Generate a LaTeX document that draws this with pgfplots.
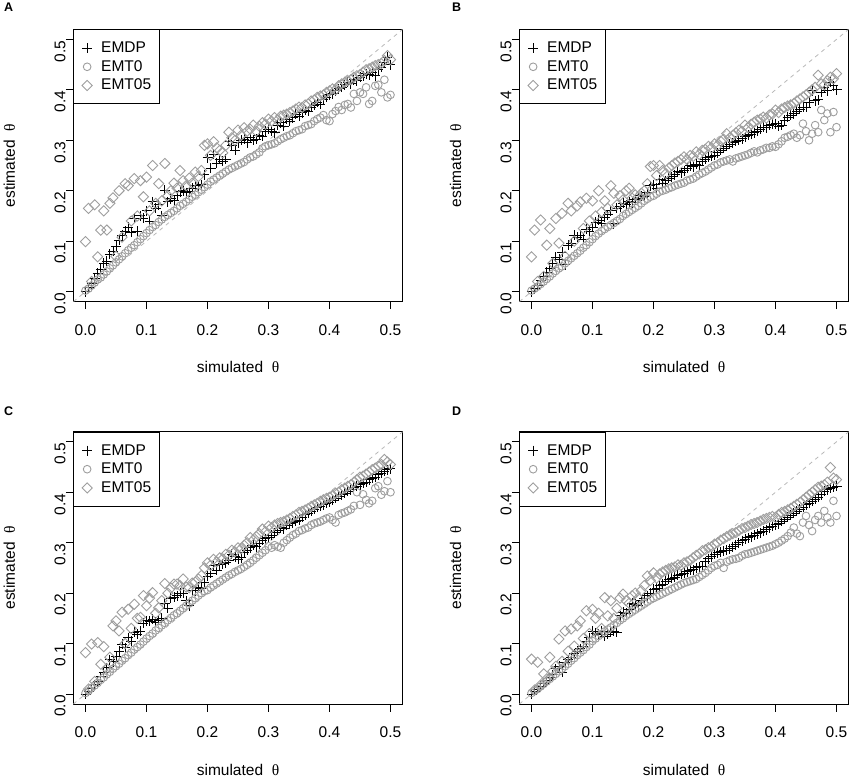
\documentclass[border=0pt]{standalone}
\usepackage{fontspec}
\setmainfont{Liberation Sans}
\newfontfamily\thetafont{Liberation Serif}
\usepackage{pgfplots}
\usepackage{pgfplotstable}
\pgfplotsset{compat=1.18}
\definecolor{mygray}{gray}{0.62}
\definecolor{dashgray}{gray}{0.72}
\newcommand{\fsz}{\fontsize{15.5}{18}\selectfont}

\pgfplotstableread{
x dp t0 t05
0.000 0.000 0.002 0.099
0.005 0.008 0.006 0.165
0.010 0.016 0.012 0.020
0.015 0.026 0.018 0.172
0.020 0.036 0.024 0.069
0.025 0.044 0.028 0.122
0.030 0.056 0.034 0.160
0.035 0.060 0.040 0.122
0.040 0.074 0.046 0.175
0.045 0.080 0.052 0.186
0.050 0.090 0.058 0.070
0.055 0.102 0.064 0.200
0.060 0.112 0.070 0.108
0.065 0.120 0.076 0.214
0.070 0.128 0.082 0.210
0.075 0.118 0.087 0.140
0.080 0.145 0.092 0.224
0.085 0.120 0.098 0.150
0.090 0.150 0.104 0.220
0.095 0.145 0.110 0.188
0.100 0.160 0.116 0.227
0.105 0.140 0.122 0.160
0.110 0.178 0.128 0.250
0.115 0.165 0.132 0.175
0.120 0.172 0.138 0.214
0.125 0.150 0.143 0.180
0.130 0.201 0.148 0.254
0.135 0.178 0.152 0.190
0.140 0.184 0.156 0.200
0.145 0.180 0.160 0.215
0.150 0.190 0.165 0.205
0.155 0.198 0.170 0.240
0.160 0.200 0.174 0.220
0.165 0.196 0.178 0.210
0.170 0.198 0.183 0.225
0.175 0.205 0.188 0.215
0.180 0.210 0.192 0.237
0.185 0.210 0.197 0.228
0.190 0.212 0.202 0.240
0.195 0.232 0.207 0.290
0.200 0.265 0.212 0.293
0.205 0.245 0.218 0.270
0.210 0.272 0.222 0.297
0.215 0.255 0.226 0.285
0.220 0.262 0.230 0.280
0.225 0.258 0.234 0.275
0.230 0.262 0.238 0.290
0.235 0.298 0.242 0.316
0.240 0.290 0.245 0.305
0.245 0.280 0.248 0.300
0.250 0.295 0.251 0.320
0.255 0.300 0.254 0.310
0.260 0.302 0.257 0.325
0.265 0.295 0.262 0.318
0.270 0.305 0.266 0.322
0.275 0.300 0.268 0.330
0.280 0.302 0.272 0.318
0.285 0.310 0.276 0.328
0.290 0.308 0.284 0.335
0.295 0.318 0.288 0.332
0.300 0.322 0.290 0.342
0.305 0.318 0.292 0.338
0.310 0.315 0.294 0.345
0.315 0.330 0.298 0.340
0.320 0.335 0.302 0.348
0.325 0.328 0.305 0.350
0.330 0.342 0.308 0.352
0.335 0.338 0.310 0.355
0.340 0.345 0.314 0.358
0.345 0.352 0.318 0.362
0.350 0.348 0.320 0.366
0.355 0.355 0.322 0.365
0.360 0.360 0.328 0.370
0.365 0.358 0.330 0.372
0.370 0.365 0.332 0.378
0.375 0.370 0.338 0.380
0.380 0.375 0.342 0.385
0.385 0.372 0.345 0.388
0.390 0.380 0.350 0.390
0.395 0.385 0.340 0.395
0.400 0.390 0.338 0.398
0.405 0.392 0.352 0.402
0.410 0.398 0.358 0.400
0.415 0.402 0.366 0.408
0.420 0.405 0.360 0.412
0.425 0.410 0.370 0.415
0.430 0.415 0.372 0.418
0.435 0.412 0.365 0.420
0.440 0.420 0.392 0.425
0.445 0.418 0.378 0.428
0.450 0.425 0.395 0.430
0.455 0.428 0.392 0.435
0.460 0.432 0.405 0.440
0.465 0.430 0.372 0.442
0.470 0.435 0.378 0.445
0.475 0.428 0.408 0.448
0.480 0.440 0.410 0.450
0.485 0.445 0.395 0.452
0.490 0.455 0.420 0.458
0.495 0.465 0.385 0.468
0.500 0.450 0.390 0.460
}\tabA

\pgfplotstableread{
x dp t0 t05
0.000 0.000 0.002 0.069
0.005 0.006 0.006 0.122
0.010 0.012 0.010 0.020
0.015 0.022 0.015 0.142
0.020 0.030 0.020 0.030
0.025 0.038 0.025 0.092
0.030 0.046 0.030 0.125
0.035 0.056 0.036 0.056
0.040 0.068 0.041 0.145
0.045 0.064 0.046 0.096
0.050 0.078 0.050 0.155
0.055 0.053 0.056 0.070
0.060 0.092 0.061 0.175
0.065 0.096 0.066 0.160
0.070 0.112 0.071 0.100
0.075 0.108 0.076 0.170
0.080 0.112 0.081 0.178
0.085 0.104 0.087 0.125
0.090 0.124 0.092 0.185
0.095 0.120 0.098 0.140
0.100 0.128 0.104 0.180
0.105 0.138 0.110 0.150
0.110 0.142 0.115 0.200
0.115 0.136 0.120 0.158
0.120 0.148 0.124 0.180
0.125 0.152 0.128 0.165
0.130 0.160 0.132 0.210
0.135 0.135 0.136 0.195
0.140 0.165 0.140 0.172
0.145 0.168 0.144 0.190
0.150 0.175 0.150 0.182
0.155 0.172 0.154 0.200
0.160 0.178 0.158 0.205
0.165 0.176 0.162 0.185
0.170 0.182 0.166 0.192
0.175 0.185 0.170 0.188
0.180 0.190 0.175 0.195
0.185 0.188 0.180 0.200
0.190 0.196 0.184 0.214
0.195 0.210 0.188 0.248
0.200 0.212 0.190 0.250
0.205 0.205 0.194 0.230
0.210 0.222 0.198 0.250
0.215 0.215 0.200 0.240
0.220 0.220 0.202 0.234
0.225 0.225 0.205 0.245
0.230 0.228 0.207 0.250
0.235 0.232 0.210 0.255
0.240 0.238 0.212 0.258
0.245 0.236 0.214 0.262
0.250 0.240 0.216 0.267
0.255 0.245 0.220 0.262
0.260 0.250 0.222 0.270
0.265 0.248 0.224 0.268
0.270 0.252 0.228 0.277
0.275 0.250 0.232 0.272
0.280 0.258 0.235 0.280
0.285 0.262 0.238 0.282
0.290 0.266 0.242 0.288
0.295 0.268 0.246 0.285
0.300 0.270 0.250 0.293
0.305 0.275 0.252 0.290
0.310 0.280 0.256 0.298
0.315 0.284 0.258 0.302
0.320 0.288 0.260 0.313
0.325 0.292 0.262 0.305
0.330 0.295 0.258 0.310
0.335 0.298 0.264 0.315
0.340 0.300 0.266 0.320
0.345 0.303 0.268 0.318
0.350 0.307 0.270 0.330
0.355 0.310 0.272 0.325
0.360 0.312 0.275 0.332
0.365 0.315 0.278 0.336
0.370 0.318 0.276 0.340
0.375 0.322 0.280 0.342
0.380 0.326 0.282 0.346
0.385 0.325 0.285 0.344
0.390 0.330 0.285 0.350
0.395 0.332 0.288 0.352
0.400 0.333 0.287 0.360
0.405 0.328 0.292 0.355
0.410 0.330 0.298 0.362
0.415 0.340 0.305 0.365
0.420 0.346 0.307 0.368
0.425 0.350 0.310 0.370
0.430 0.353 0.313 0.373
0.435 0.358 0.305 0.378
0.440 0.362 0.310 0.382
0.445 0.365 0.333 0.386
0.450 0.366 0.318 0.390
0.455 0.375 0.300 0.395
0.460 0.398 0.313 0.400
0.465 0.378 0.330 0.405
0.470 0.380 0.316 0.429
0.475 0.395 0.360 0.412
0.480 0.404 0.340 0.410
0.485 0.398 0.353 0.418
0.490 0.415 0.316 0.425
0.495 0.408 0.356 0.422
0.500 0.400 0.326 0.432
}\tabB

\pgfplotstableread{
x dp t0 t05
0.000 0.000 0.002 0.082
0.005 0.006 0.006 0.010
0.010 0.012 0.012 0.099
0.015 0.018 0.017 0.025
0.020 0.025 0.022 0.102
0.025 0.034 0.028 0.059
0.030 0.042 0.033 0.094
0.035 0.052 0.039 0.050
0.040 0.068 0.044 0.073
0.045 0.064 0.050 0.135
0.050 0.075 0.055 0.145
0.055 0.085 0.060 0.125
0.060 0.099 0.066 0.162
0.065 0.092 0.071 0.100
0.070 0.112 0.077 0.168
0.075 0.105 0.082 0.130
0.080 0.122 0.088 0.178
0.085 0.118 0.093 0.150
0.090 0.125 0.098 0.152
0.095 0.140 0.104 0.195
0.100 0.145 0.110 0.175
0.105 0.144 0.115 0.190
0.110 0.148 0.120 0.201
0.115 0.142 0.126 0.160
0.120 0.146 0.131 0.171
0.125 0.150 0.136 0.185
0.130 0.180 0.141 0.219
0.135 0.170 0.146 0.200
0.140 0.190 0.151 0.210
0.145 0.192 0.156 0.218
0.150 0.195 0.160 0.218
0.155 0.200 0.165 0.215
0.160 0.200 0.170 0.228
0.165 0.185 0.175 0.212
0.170 0.175 0.180 0.211
0.175 0.205 0.185 0.220
0.180 0.205 0.190 0.222
0.185 0.212 0.195 0.228
0.190 0.210 0.200 0.235
0.195 0.222 0.204 0.250
0.200 0.234 0.206 0.260
0.205 0.240 0.211 0.255
0.210 0.254 0.215 0.267
0.215 0.245 0.219 0.262
0.220 0.256 0.223 0.270
0.225 0.258 0.227 0.268
0.230 0.260 0.231 0.277
0.235 0.265 0.235 0.275
0.240 0.277 0.238 0.285
0.245 0.272 0.242 0.282
0.250 0.267 0.245 0.290
0.255 0.270 0.248 0.288
0.260 0.280 0.252 0.295
0.265 0.285 0.256 0.300
0.270 0.290 0.260 0.310
0.275 0.295 0.265 0.305
0.280 0.292 0.270 0.312
0.285 0.298 0.275 0.318
0.290 0.305 0.280 0.327
0.295 0.308 0.285 0.322
0.300 0.310 0.293 0.333
0.305 0.315 0.290 0.330
0.310 0.320 0.295 0.335
0.315 0.325 0.292 0.338
0.320 0.330 0.290 0.340
0.325 0.328 0.300 0.342
0.330 0.335 0.305 0.345
0.335 0.338 0.310 0.348
0.340 0.340 0.315 0.352
0.345 0.343 0.318 0.355
0.350 0.345 0.323 0.360
0.355 0.350 0.325 0.362
0.360 0.355 0.328 0.365
0.365 0.358 0.330 0.368
0.370 0.362 0.335 0.372
0.375 0.366 0.338 0.375
0.380 0.370 0.340 0.378
0.385 0.372 0.342 0.382
0.390 0.375 0.345 0.385
0.395 0.378 0.348 0.388
0.400 0.380 0.350 0.390
0.405 0.384 0.345 0.394
0.410 0.388 0.340 0.398
0.415 0.392 0.355 0.400
0.420 0.395 0.358 0.405
0.425 0.398 0.360 0.408
0.430 0.402 0.363 0.412
0.435 0.405 0.366 0.415
0.440 0.410 0.373 0.420
0.445 0.412 0.400 0.425
0.450 0.415 0.375 0.430
0.455 0.418 0.396 0.432
0.460 0.420 0.385 0.436
0.465 0.425 0.378 0.440
0.470 0.428 0.383 0.445
0.475 0.430 0.408 0.448
0.480 0.435 0.412 0.452
0.485 0.438 0.395 0.455
0.490 0.442 0.402 0.465
0.495 0.445 0.422 0.460
0.500 0.447 0.400 0.455
}\tabC

\pgfplotstableread{
x dp t0 t05
0.000 0.000 0.002 0.069
0.005 0.005 0.006 0.008
0.010 0.010 0.010 0.063
0.015 0.015 0.015 0.018
0.020 0.020 0.020 0.040
0.025 0.026 0.025 0.030
0.030 0.032 0.030 0.073
0.035 0.038 0.035 0.045
0.040 0.050 0.040 0.055
0.045 0.055 0.045 0.109
0.050 0.043 0.050 0.065
0.055 0.062 0.055 0.125
0.060 0.068 0.060 0.085
0.065 0.072 0.066 0.129
0.070 0.080 0.071 0.095
0.075 0.085 0.077 0.135
0.080 0.090 0.082 0.145
0.085 0.095 0.087 0.110
0.090 0.105 0.093 0.165
0.095 0.112 0.098 0.120
0.100 0.125 0.105 0.168
0.105 0.120 0.110 0.150
0.110 0.118 0.115 0.160
0.115 0.125 0.119 0.130
0.120 0.115 0.124 0.191
0.125 0.118 0.128 0.155
0.130 0.122 0.132 0.185
0.135 0.125 0.137 0.150
0.140 0.122 0.141 0.170
0.145 0.155 0.146 0.190
0.150 0.162 0.150 0.198
0.155 0.160 0.155 0.185
0.160 0.168 0.159 0.180
0.165 0.180 0.163 0.195
0.170 0.178 0.167 0.200
0.175 0.175 0.171 0.190
0.180 0.185 0.175 0.205
0.185 0.190 0.179 0.215
0.190 0.195 0.183 0.234
0.195 0.200 0.187 0.225
0.200 0.208 0.190 0.240
0.205 0.210 0.193 0.230
0.210 0.215 0.196 0.238
0.215 0.218 0.199 0.242
0.220 0.224 0.202 0.245
0.225 0.228 0.205 0.248
0.230 0.230 0.208 0.250
0.235 0.232 0.211 0.252
0.240 0.236 0.214 0.256
0.245 0.238 0.217 0.255
0.250 0.240 0.220 0.260
0.255 0.242 0.222 0.262
0.260 0.245 0.224 0.265
0.265 0.246 0.226 0.270
0.270 0.250 0.228 0.275
0.275 0.252 0.232 0.278
0.280 0.252 0.236 0.284
0.285 0.262 0.240 0.286
0.290 0.268 0.245 0.290
0.295 0.272 0.250 0.292
0.300 0.277 0.254 0.297
0.305 0.280 0.256 0.300
0.310 0.282 0.260 0.305
0.315 0.284 0.250 0.308
0.320 0.285 0.262 0.312
0.325 0.288 0.265 0.315
0.330 0.292 0.267 0.318
0.335 0.296 0.268 0.320
0.340 0.300 0.270 0.324
0.345 0.304 0.274 0.328
0.350 0.307 0.277 0.330
0.355 0.310 0.278 0.333
0.360 0.312 0.280 0.336
0.365 0.315 0.282 0.338
0.370 0.318 0.284 0.340
0.375 0.320 0.286 0.343
0.380 0.323 0.288 0.346
0.385 0.326 0.290 0.348
0.390 0.330 0.292 0.350
0.395 0.333 0.294 0.352
0.400 0.336 0.297 0.350
0.405 0.338 0.300 0.356
0.410 0.342 0.304 0.360
0.415 0.346 0.308 0.362
0.420 0.350 0.313 0.365
0.425 0.354 0.320 0.368
0.430 0.358 0.330 0.372
0.435 0.362 0.318 0.376
0.440 0.366 0.313 0.380
0.445 0.370 0.340 0.385
0.450 0.375 0.353 0.390
0.455 0.378 0.335 0.395
0.460 0.382 0.323 0.400
0.465 0.386 0.345 0.405
0.470 0.390 0.353 0.410
0.475 0.395 0.340 0.412
0.480 0.402 0.363 0.415
0.485 0.405 0.350 0.420
0.490 0.408 0.340 0.449
0.495 0.410 0.383 0.428
0.500 0.412 0.353 0.425
}\tabD

\pgfplotsset{
  panel/.style={
    scale only axis, width=329.4pt, height=272.4pt,
    xmin=-0.02, xmax=0.52, ymin=-0.02, ymax=0.52,
    xtick={0,0.1,0.2,0.3,0.4,0.5}, ytick={0,0.1,0.2,0.3,0.4,0.5},
    xticklabels={0.0,0.1,0.2,0.3,0.4,0.5}, yticklabels={0.0,0.1,0.2,0.3,0.4,0.5},
    tick align=outside, tick pos=left, major tick length=7.5pt,
    every tick/.style={black, line width=0.8pt},
    axis line style={line width=0.9pt},
    tick label style={font=\fsz},
    xticklabel style={anchor=north, inner sep=0pt, yshift=-15pt},
    yticklabel style={rotate=90, anchor=south, inner sep=0pt, xshift=-12pt},
    xlabel={simulated\ \ {\thetafont θ}}, ylabel={estimated\ \ {\thetafont θ}},
    xlabel style={at={(axis description cs:0.5,-0.2617)}, anchor=base, font=\fsz, inner sep=0pt},
    ylabel style={at={(axis description cs:-0.177,0.5)}, anchor=base, font=\fsz, inner sep=0pt},
    legend style={at={(0,1)}, anchor=north west, draw=black, line width=0.9pt,
      font=\fsz, inner xsep=8.3pt, inner ysep=9pt, row sep=0pt,
      nodes={text height=11.5pt, text depth=2.5pt, inner ysep=2.35pt, inner xsep=0pt},
      /tikz/every odd column/.append style={column sep=9pt}},
    legend cell align=left,
    legend image code/.code={\draw[mark repeat=1,##1] plot coordinates {(0pt,0pt)};},
  },
  dpst/.style={only marks, mark=+, mark size=5pt, black, line width=0.9pt},
  t0st/.style={only marks, mark=o, mark size=3.85pt, mygray, line width=0.9pt},
  t05st/.style={only marks, mark=square, mark size=3.6pt, mygray, line width=0.9pt, mark options={rotate=45}},
}

\newcommand{\panelplots}[1]{%
  \addplot[dpst] table[x=x,y=dp] {#1};
  \addlegendentry{EMDP}
  \addplot[t0st] table[x=x,y=t0] {#1};
  \addlegendentry{EMT0}
  \addplot[t05st] table[x=x,y=t05] {#1};
  \addlegendentry{EMT05}
  \addplot[dashgray, dash pattern=on 4pt off 4pt, line width=0.8pt, forget plot] coordinates {(-0.02,-0.02) (0.52,0.52)};
}

\begin{document}
\begin{tikzpicture}
\useasboundingbox (0,0) rectangle (850pt,-781pt);
\begin{axis}[panel, at={(73.3pt,-29.3pt)}, anchor=north west]
\panelplots{\tabA}
\end{axis}
\begin{axis}[panel, at={(519.3pt,-29.3pt)}, anchor=north west]
\panelplots{\tabB}
\end{axis}
\begin{axis}[panel, at={(73.3pt,-431.7pt)}, anchor=north west]
\panelplots{\tabC}
\end{axis}
\begin{axis}[panel, at={(519.3pt,-431.7pt)}, anchor=north west]
\panelplots{\tabD}
\end{axis}
\node[anchor=base west, inner sep=0pt, font=\fontsize{12.5}{14}\selectfont\bfseries] at (4pt,-11.7pt) {A};
\node[anchor=base west, inner sep=0pt, font=\fontsize{12.5}{14}\selectfont\bfseries] at (452pt,-11.7pt) {B};
\node[anchor=base west, inner sep=0pt, font=\fontsize{12.5}{14}\selectfont\bfseries] at (4pt,-415pt) {C};
\node[anchor=base west, inner sep=0pt, font=\fontsize{12.5}{14}\selectfont\bfseries] at (452pt,-415pt) {D};
\end{tikzpicture}
\end{document}
